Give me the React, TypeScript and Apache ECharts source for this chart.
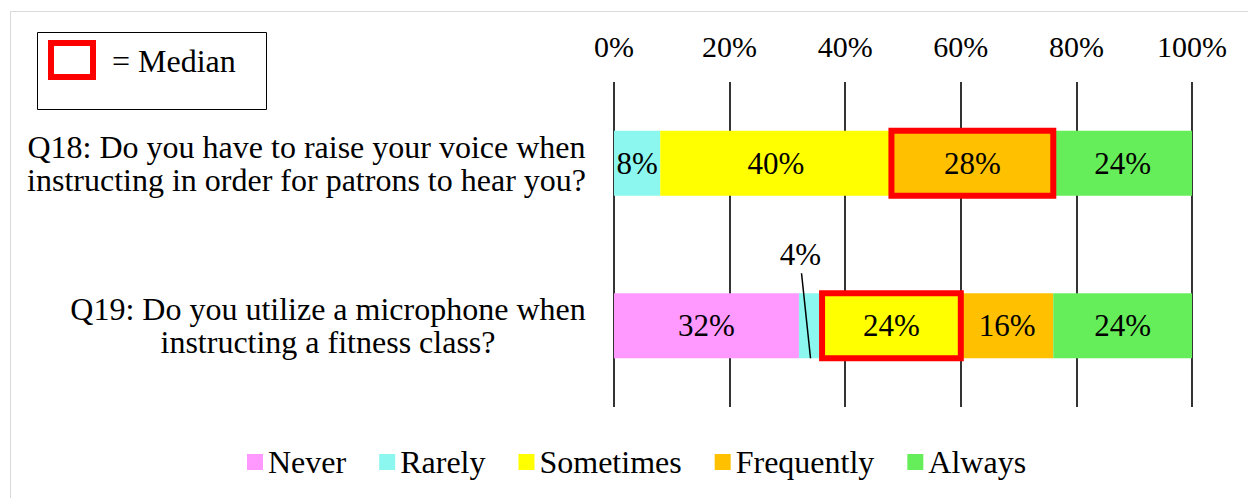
import React, { useEffect, useRef } from "react";
import * as echarts from "echarts";

const categories = [
  "Q18: Do you have to raise your voice when\ninstructing in order for patrons to hear you?",
  "Q19: Do you utilize a microphone when\ninstructing a fitness class?",
];
const seriesNames = ["Never", "Rarely", "Sometimes", "Frequently", "Always"];
const seriesColors = ["#FF99FF", "#8CF7EE", "#FFFF00", "#FFC000", "#66EE5A"];
const never = [0, 32];
const rarely = [8, 4];
const sometimes = [40, 24];
const frequently = [28, 16];
const always = [24, 24];
// index into seriesNames of the median response for each question
const medianIndex = [3, 2];
const xMin = 0;
const xMax = 100;
const xInterval = 20;

const FONT = "'Liberation Serif', 'Times New Roman', serif";
const CAT_FONT_SIZE = 32;

function measure(text: string, size: number): number {
  const c = document.createElement("canvas").getContext("2d");
  if (!c) return text.length * size * 0.45;
  c.font = size + "px " + FONT;
  return c.measureText(text).width;
}

export default function App() {
  const ref = useRef<HTMLDivElement>(null);

  useEffect(() => {
    if (!ref.current) return;
    const chart = echarts.init(ref.current, undefined, { renderer: "svg" });
    const values = [never, rarely, sometimes, frequently, always];

    const medianData = categories.map((_, q) => {
      const m = medianIndex[q];
      let start = 0;
      for (let i = 0; i < m; i++) start += values[i][q];
      return [start, start + values[m][q], q];
    });
    const leaderCat = 1;
    const leaderMid = never[leaderCat] + rarely[leaderCat] / 2;

    // rich styles so that each label block is right-aligned while its lines are centred
    const rich: Record<string, any> = {};
    categories.forEach((cat, i) => {
      const w = Math.max(...cat.split("\n").map((l) => measure(l, CAT_FONT_SIZE)));
      rich["c" + i] = {
        width: Math.ceil(w) + 2,
        align: "center",
        fontFamily: FONT,
        fontSize: CAT_FONT_SIZE,
        lineHeight: 33,
        color: "#000",
      };
    });

    const barSeries = seriesNames.map((name, i) => ({
      name,
      type: "bar",
      stack: "total",
      barWidth: "40%",
      data: values[i],
      itemStyle: { color: seriesColors[i] },
      label: {
        show: true,
        position: "inside",
        color: "#000",
        fontFamily: FONT,
        fontSize: 31,
        formatter: (p: any) => (p.value === 0 ? "" : p.value + "%"),
      },
      labelLayout:
        name === "Rarely"
          ? (p: any) =>
              p.dataIndex === leaderCat
                ? {
                    x: p.rect.x + p.rect.width / 2 - 10,
                    y: p.rect.y - 39,
                    align: "center",
                    verticalAlign: "middle",
                  }
                : {}
          : undefined,
    }));

    chart.setOption({
      animation: false,
      backgroundColor: "#fff",
      textStyle: { fontFamily: FONT, color: "#000" },
      grid: { left: 614, right: 56, top: 82, bottom: 91, containLabel: false },
      xAxis: {
        type: "value",
        position: "top",
        min: xMin,
        max: xMax,
        interval: xInterval,
        axisLine: { show: false },
        axisTick: { show: false },
        axisLabel: {
          formatter: "{value}%",
          color: "#000",
          fontFamily: FONT,
          fontSize: 30,
          margin: 21,
        },
        splitLine: { show: true, lineStyle: { color: "#000", width: 1.6 } },
      },
      yAxis: {
        type: "category",
        inverse: true,
        data: categories,
        axisLine: { show: false },
        axisTick: { show: false },
        axisLabel: {
          color: "#000",
          fontFamily: FONT,
          fontSize: CAT_FONT_SIZE,
          lineHeight: 33,
          align: "right",
          margin: 27,
          formatter: (value: string, index: number) =>
            value
              .split("\n")
              .map((l) => "{c" + index + "|" + l + "}")
              .join("\n"),
          rich,
        },
      },
      legend: {
        data: seriesNames,
        left: 242,
        top: 441,
        itemWidth: 16,
        itemHeight: 16,
        itemGap: 33,
        icon: "rect",
        textStyle: { fontFamily: FONT, fontSize: 32, color: "#000" },
      },
      graphic: [
        {
          type: "rect",
          shape: { x: 10.5, y: 11.5, width: 1300, height: 600 },
          style: { fill: "none", stroke: "#d9d9d9", lineWidth: 1 },
          silent: true,
        },
        {
          type: "rect",
          shape: { x: 37.5, y: 32.5, width: 229, height: 77 },
          style: { fill: "#fff", stroke: "#000", lineWidth: 1 },
        },
        {
          type: "rect",
          shape: { x: 51, y: 43, width: 42, height: 34 },
          style: { fill: "none", stroke: "#FF0000", lineWidth: 6 },
        },
        {
          type: "text",
          x: 112,
          y: 61,
          style: {
            text: "= Median",
            font: "32px " + FONT,
            fill: "#000",
            verticalAlign: "middle",
          },
        },
      ],
      series: [
        ...barSeries,
        {
          type: "custom",
          name: "median",
          z: 10,
          encode: { x: [0, 1], y: 2 },
          data: medianData,
          renderItem: (params: any, api: any) => {
            const p0 = api.coord([api.value(0), api.value(2)]);
            const p1 = api.coord([api.value(1), api.value(2)]);
            const h = api.size([0, 1])[1] * 0.4;
            return {
              type: "rect",
              shape: { x: p0[0], y: p0[1] - h / 2, width: p1[0] - p0[0], height: h },
              style: { fill: "none", stroke: "#FF0000", lineWidth: 6 },
            };
          },
        },
        {
          type: "custom",
          name: "leader",
          z: 11,
          encode: { x: 0, y: 1 },
          data: [[leaderMid, leaderCat]],
          renderItem: (params: any, api: any) => {
            const p = api.coord([api.value(0), api.value(1)]);
            const h = api.size([0, 1])[1] * 0.4;
            return {
              type: "line",
              shape: { x1: p[0] - 9, y1: p[1] - h / 2 - 20, x2: p[0], y2: p[1] + h / 2 },
              style: { stroke: "#000", lineWidth: 1.5 },
            };
          },
        },
      ],
    });

    return () => chart.dispose();
  }, []);

  return (
    <div
      ref={ref}
      style={{ position: "fixed", left: 0, top: 0, width: 1248, height: 498 }}
    />
  );
}
